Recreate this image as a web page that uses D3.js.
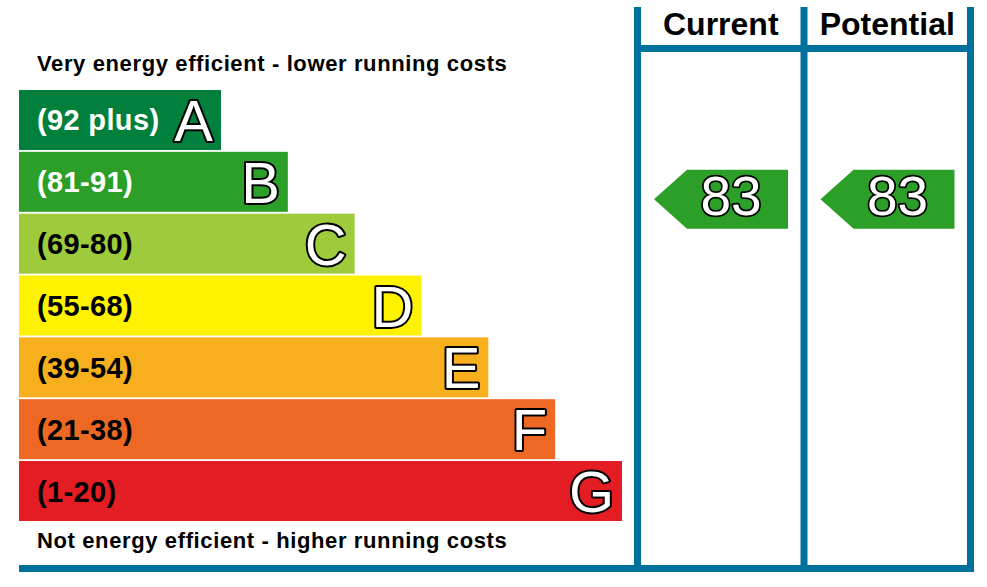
<!DOCTYPE html>
<html>
<head>
<meta charset="utf-8">
<script src="https://cdn.jsdelivr.net/npm/d3@7"></script>
<style>
  body { margin: 0; background: #fff; }
  text { font-family: "Liberation Sans", Arial, sans-serif; }
</style>
</head>
<body>
<div id="chart"></div>
<script>
var bands      = ['A', 'B', 'C', 'D', 'E', 'F', 'G'],
    ranges     = ['(92 plus)', '(81-91)', '(69-80)', '(55-68)', '(39-54)', '(21-38)', '(1-20)'],
    colours    = ['#007f3d', '#2c9f29', '#9dcb3c', '#fff200', '#f7af1d', '#ed6823', '#e31d23'],
    labelInk   = ['#fff', '#fff', '#000', '#000', '#000', '#000', '#000'],
    columns    = ['Current', 'Potential'],
    ratings    = [83, 83],
    ratingBand = ['B', 'B'];

var blue = '#00709c';

var svg = d3.select('#chart')
            .append('svg')
            .attr('width', 987)
            .attr('height', 587);

// band rows and bar lengths
var y = d3.scaleBand()
          .domain(bands)
          .range([90, 521])
          .paddingInner(0.03),
    barEnd = d3.scaleLinear()
               .domain([0, bands.length - 1])
               .range([221, 622]),
    col = d3.scaleBand()
            .domain(columns)
            .range([637.5, 970.5]);

var rows = svg.append('g')
              .selectAll('.band')
              .data(bands)
              .enter()
                .append('g')
                .attr('class', 'band');

rows.append('rect')
    .attr('x', 19)
    .attr('y', function(d) { return y(d); })
    .attr('width', function(d, i) { return barEnd(i) - 19; })
    .attr('height', y.bandwidth())
    .attr('fill', function(d, i) { return colours[i]; });

rows.append('text')
    .attr('x', 37)
    .attr('y', function(d) { return y(d) + y.bandwidth() / 2 + 10.5; })
    .attr('font-size', 29)
    .attr('font-weight', 'bold')
    .attr('letter-spacing', 0.35)
    .attr('fill', function(d, i) { return labelInk[i]; })
    .text(function(d, i) { return ranges[i]; });

rows.append('text')
    .attr('x', function(d, i) { return barEnd(i) - 8; })
    .attr('y', function(d) { return y(d) + y.bandwidth() / 2 + 21; })
    .attr('text-anchor', 'end')
    .attr('font-size', 58)
    .attr('fill', '#fff')
    .attr('stroke', '#000')
    .attr('stroke-width', 4)
    .attr('stroke-linejoin', 'round')
    .attr('paint-order', 'stroke')
    .text(function(d) { return d; });

svg.append('text')
   .attr('x', 37)
   .attr('y', 71)
   .attr('font-size', 22)
   .attr('font-weight', 'bold')
   .attr('letter-spacing', 0.62)
   .text('Very energy efficient - lower running costs');

svg.append('text')
   .attr('x', 37)
   .attr('y', 548)
   .attr('font-size', 22)
   .attr('font-weight', 'bold')
   .attr('letter-spacing', 0.62)
   .text('Not energy efficient - higher running costs');

// frame lines
var frame = svg.append('g').attr('stroke', blue).attr('stroke-width', 7);

frame.selectAll('.vline')
     .data(columns.concat(['end']))
     .enter()
       .append('line')
       .attr('x1', function(d, i) { return 637.5 + i * col.bandwidth(); })
       .attr('x2', function(d, i) { return 637.5 + i * col.bandwidth(); })
       .attr('y1', 7)
       .attr('y2', 572);

frame.append('line')
     .attr('x1', 634).attr('x2', 974)
     .attr('y1', 48.5).attr('y2', 48.5);

frame.append('line')
     .attr('x1', 19).attr('x2', 974)
     .attr('y1', 568.5).attr('y2', 568.5);

svg.selectAll('.colhead')
   .data(columns)
   .enter()
     .append('text')
     .attr('class', 'colhead')
     .attr('x', function(d) { return col(d) + col.bandwidth() / 2; })
     .attr('y', 35)
     .attr('text-anchor', 'middle')
     .attr('font-size', 32)
     .attr('font-weight', 'bold')
     .text(function(d) { return d; });

// rating arrows
var arrows = svg.selectAll('.arrow')
                .data(columns)
                .enter()
                  .append('g')
                  .attr('class', 'arrow')
                  .attr('transform', function(d, i) {
                    return 'translate(' + (col(d) + col.bandwidth() - 16) + ',' + (y(ratingBand[i]) + 18) + ')';
                  });

arrows.append('path')
      .attr('d', function() {
        var h = y.bandwidth() - 1;
        return 'M0,0 L-101,0 L-134,' + (h / 2) + ' L-101,' + h + ' L0,' + h + 'Z';
      })
      .attr('fill', function(d, i) { return colours[bands.indexOf(ratingBand[i])]; });

arrows.append('text')
      .attr('x', -57)
      .attr('y', 45)
      .attr('text-anchor', 'middle')
      .attr('font-size', 55)
      .attr('fill', '#fff')
      .attr('stroke', '#000')
      .attr('stroke-width', 3.5)
      .attr('stroke-linejoin', 'round')
      .attr('paint-order', 'stroke')
      .text(function(d, i) { return ratings[i]; });
</script>
</body>
</html>
